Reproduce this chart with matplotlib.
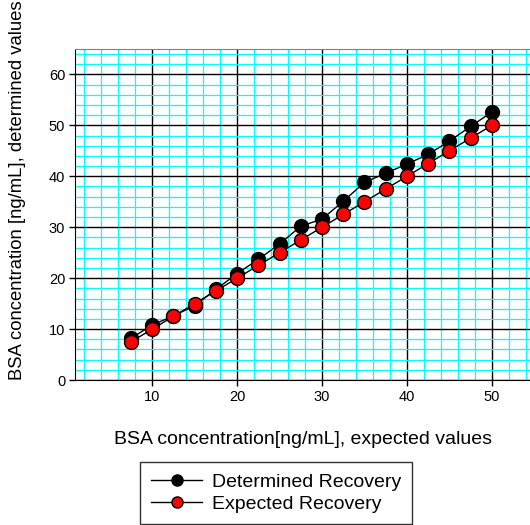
import numpy as np
import matplotlib.pyplot as plt
from matplotlib.ticker import MultipleLocator

plt.rcParams['font.family'] = ['Liberation Sans', 'DejaVu Sans']

# data
expected_x = [7.5, 10, 12.5, 15, 17.5, 20, 22.5, 25, 27.5, 30, 32.5, 35, 37.5, 40, 42.5, 45, 47.5, 50]
determined = [8.2, 10.8, 12.6, 14.6, 17.8, 20.9, 23.7, 26.7, 30.2, 31.6, 35.1, 38.8, 40.6, 42.4, 44.3, 46.9, 49.8, 52.6]
expected = [7.5, 10, 12.5, 15, 17.5, 20, 22.5, 25, 27.5, 30, 32.5, 35, 37.5, 40, 42.5, 45, 47.5, 50]

fig = plt.figure(figsize=(5.3, 5.25), dpi=100)
ax = fig.add_axes([75/530, 1-380/525, 455/530, 331/525])

ax.set_xlim(0.9, 54.5)
ax.set_ylim(0, 65)
ax.xaxis.set_major_locator(MultipleLocator(10))
ax.yaxis.set_major_locator(MultipleLocator(10))
ax.xaxis.set_minor_locator(MultipleLocator(2))
ax.yaxis.set_minor_locator(MultipleLocator(2))
ax.grid(which='minor', color='cyan', lw=0.9)
ax.grid(which='major', color='black', lw=1.0)
ax.set_axisbelow(True)
ax.tick_params(which='minor', length=0)
ax.tick_params(which='major', direction='out', length=4, width=1, pad=3, labelsize=10.5)
ax.spines['top'].set_color('gray')
ax.spines['right'].set_visible(False)

ax.plot(expected_x, determined, '-o', color='black', lw=1, ms=10,
        mfc='black', mec='black', label='Determined Recovery', zorder=3)
ax.plot(expected_x, expected, '-o', color='black', lw=1, ms=10,
        mfc='red', mec='black', label='Expected Recovery', zorder=3)

ax.set_xlabel('BSA concentration[ng/mL], expected values', fontsize=14, labelpad=20)
fig.text(18/530, 1-190/525, 'BSA concentration [ng/mL], determined values',
         rotation=90, fontsize=13.3, ha='center', va='center')

leg = fig.legend(loc='upper center', bbox_to_anchor=(276/530, 1-462/525),
                 borderaxespad=0, fontsize=14, frameon=True, fancybox=False,
                 edgecolor='black', handlelength=2.6, handletextpad=0.5,
                 borderpad=0.6, labelspacing=0.2, markerscale=0.8)
leg.get_frame().set_linewidth(1)

fig.savefig('out.png', dpi=100)
